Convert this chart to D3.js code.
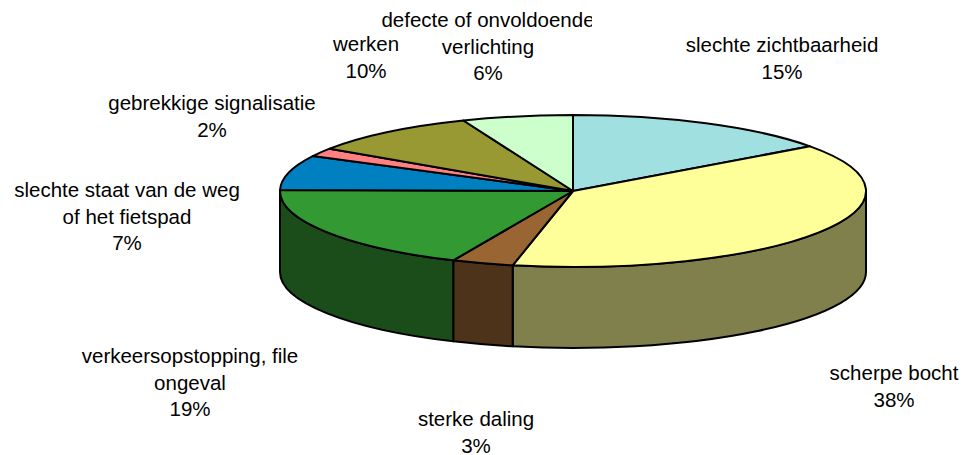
<!DOCTYPE html>
<html>
<head>
<meta charset="utf-8">
<script src="https://cdn.jsdelivr.net/npm/d3@7"></script>
<style>
  body { margin: 0; background: #fff; }
  text { font-family: "Liberation Sans", Arial, sans-serif; font-size: 20.5px; fill: #000; }
</style>
</head>
<body>
<svg width="967" height="455"></svg>
<script>
// slice names (one entry per line of the label)
var categories = [
  ["slechte zichtbaarheid"],
  ["scherpe bocht"],
  ["sterke daling"],
  ["verkeersopstopping, file", "ongeval"],
  ["slechte staat van de weg", "of het fietspad"],
  ["gebrekkige signalisatie"],
  ["werken"],
  ["defecte of onvoldoende", "verlichting"]
];
// shares in percent
var values = [15, 38.3, 3.4, 18.5, 7.4, 1.8, 9.5, 6.1];
var topColors = ["#A0E0E0", "#FFFF99", "#996633", "#339933", "#0080C0", "#FF8080", "#999933", "#CCFFCC"];

// where each label sits (center x, first baseline) and how far it may run right
var labelAt = [[782, 52], [894, 380], [476, 426], [190, 363], [127, 197], [212, 110], [366, 51], [488, 27]];
var labelClip = [null, null, null, null, 241, null, null, 592];

var svg = d3.select("svg");

// ellipse of the pie top and its thickness
var cx = 573, cy = 191, rx = 293, ry = 76, depth = 81;

function pt(a, dy) {
  return [cx + rx * Math.sin(a), cy - ry * Math.cos(a) + (dy || 0)];
}

var pie = d3.pie().sort(null).value(function(d) { return d; });
var arcs = pie(values);

// side wall of a slice, only the front half (90deg..270deg) can be seen
function sidePath(d) {
  var s = Math.max(d.startAngle, Math.PI / 2),
      e = Math.min(d.endAngle, 3 * Math.PI / 2);
  if (e <= s) return null;
  var p0 = pt(s), p1 = pt(e), q1 = pt(e, depth), q0 = pt(s, depth);
  var big = (e - s) > Math.PI ? 1 : 0;
  return "M" + p0 + "A" + rx + "," + ry + " 0 " + big + " 1 " + p1 +
         "L" + q1 + "A" + rx + "," + ry + " 0 " + big + " 0 " + q0 + "Z";
}

function topPath(d) {
  var p0 = pt(d.startAngle), p1 = pt(d.endAngle);
  var big = (d.endAngle - d.startAngle) > Math.PI ? 1 : 0;
  return "M" + [cx, cy] + "L" + p0 + "A" + rx + "," + ry + " 0 " + big + " 1 " + p1 + "Z";
}

function darker(c) {
  var k = d3.rgb(c);
  return d3.rgb(k.r * 0.5, k.g * 0.5, k.b * 0.5).toString();
}

// walls first, tops over them
svg.append("g").selectAll("path")
  .data(arcs.filter(function(d) { return sidePath(d) != null; }))
  .enter().append("path")
    .attr("d", sidePath)
    .attr("fill", function(d) { return darker(topColors[d.index]); })
    .attr("stroke", "#000")
    .attr("stroke-width", 2)
    .attr("stroke-linejoin", "round");

svg.append("g").selectAll("path")
  .data(arcs)
  .enter().append("path")
    .attr("d", topPath)
    .attr("fill", function(d) { return topColors[d.index]; })
    .attr("stroke", "#000")
    .attr("stroke-width", 2)
    .attr("stroke-linejoin", "round");

// labels
var defs = svg.append("defs");
labelClip.forEach(function(c, i) {
  if (c == null) return;
  defs.append("clipPath").attr("id", "clip" + i)
    .append("rect").attr("x", 0).attr("y", 0).attr("width", c).attr("height", 455);
});

var labels = svg.append("g").selectAll("g")
  .data(arcs)
  .enter().append("g")
    .attr("clip-path", function(d) { return labelClip[d.index] != null ? "url(#clip" + d.index + ")" : null; });

labels.each(function(d) {
  var g = d3.select(this);
  var lines = categories[d.index].concat([Math.round(d.data) + "%"]);
  var pos = labelAt[d.index];
  lines.forEach(function(t, j) {
    g.append("text")
      .attr("x", pos[0])
      .attr("y", pos[1] + j * 26.5)
      .attr("text-anchor", "middle")
      .text(t);
  });
});
</script>
</body>
</html>
